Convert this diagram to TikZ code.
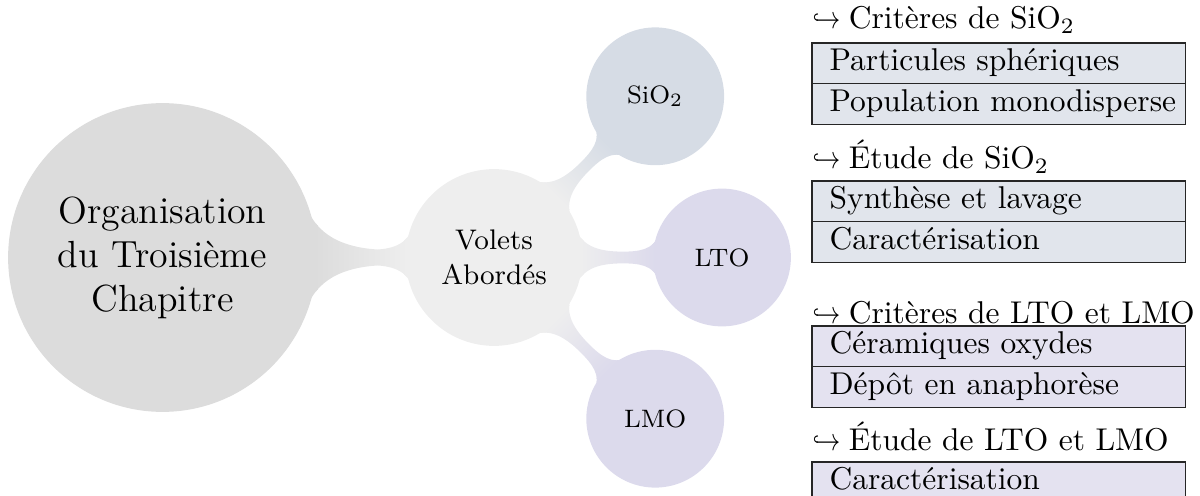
\documentclass[tikz,border=0pt]{standalone}
\usepackage{graphicx}
\usetikzlibrary{mindmap}
\definecolor{rootc}{HTML}{DCDCDC}
\definecolor{voletc}{HTML}{EEEEEE}
\definecolor{sioc}{HTML}{D6DCE5}
\definecolor{ltoc}{HTML}{DCDAEC}
\definecolor{siobox}{HTML}{E1E5EC}
\definecolor{ltobox}{HTML}{E4E2F0}
\newcommand{\hookarr}{\scalebox{0.8}[1]{$\hookrightarrow$}\hspace{2.6pt}}
\begin{document}
\begin{tikzpicture}[x=0.31746pt,y=0.31746pt,
  rowbox/.style={rectangle, anchor=north west,
    inner xsep=0pt, inner ysep=0pt, text width=118.1pt, align=left,
    minimum height=12.54pt, text height=8.4pt, text depth=3.6pt, font=\normalsize},
  boxline/.style={draw=black!85, line width=0.4pt},
  headtext/.style={anchor=base west, inner sep=0pt, font=\normalsize}
]
\useasboundingbox (0,0) rectangle (1200,-496);
\begin{scope}[mindmap, text=black,
  rootnode/.style={concept, concept color=rootc, minimum size=96.83pt, text width=75pt, inner sep=0pt, font=\large, align=center},
  voletnode/.style={concept, concept color=voletc, minimum size=54.92pt, text width=45pt, inner sep=0pt, font=\small, align=center},
  leafnode/.style={concept, minimum size=42.54pt, text width=35pt, inner sep=0pt, font=\footnotesize, align=center}]
\node[rootnode] (root) at (162.5,-257.5) {Organisation\\du Troisième\\Chapitre};
\node[voletnode] (volets) at (494,-257.5) {Volets\\Abordés};
\node[leafnode, concept color=sioc] (sio) at (655.2,-96.3) {SiO$_2$};
\node[leafnode, concept color=ltoc] (lto) at (722,-257.5) {LTO};
\node[leafnode, concept color=ltoc] (lmo) at (655.2,-418.7) {LMO};
\path (root) to[circle connection bar switch color=from (rootc) to (voletc)] (volets);
\path (volets) to[circle connection bar switch color=from (voletc) to (sioc)] (sio);
\path (volets) to[circle connection bar switch color=from (voletc) to (ltoc)] (lto);
\path (volets) to[circle connection bar switch color=from (voletc) to (ltoc)] (lmo);
\end{scope}
% right side
\node[headtext] (h1) at (812,-29) {\hookarr Critères de SiO$_2$};
\node[rowbox, fill=siobox] (b1a) at (812,-43) {\hspace*{5.4pt}Particules sphériques};
\node[rowbox, fill=siobox] (b1b) at (b1a.south west) {\hspace*{5.4pt}Population monodisperse};
\draw[boxline] (b1a.north west) rectangle (b1b.south east);
\draw[boxline] (b1a.south west) -- (b1a.south east);
\node[headtext] (h2) at (812,-169) {\hookarr Étude de SiO$_2$};
\node[rowbox, fill=siobox] (b2a) at (812,-181) {\hspace*{5.4pt}Synthèse et lavage};
\node[rowbox, fill=siobox] (b2b) at (b2a.south west) {\hspace*{5.4pt}Caractérisation};
\draw[boxline] (b2a.north west) rectangle (b2b.south east);
\draw[boxline] (b2a.south west) -- (b2a.south east);
\node[headtext] (h3) at (812,-324) {\hookarr Critères de LTO et LMO};
\node[rowbox, fill=ltobox] (b3a) at (812,-326) {\hspace*{5.4pt}Céramiques oxydes};
\node[rowbox, fill=ltobox] (b3b) at (b3a.south west) {\hspace*{5.4pt}Dépôt en anaphorèse};
\draw[boxline] (b3a.north west) rectangle (b3b.south east);
\draw[boxline] (b3a.south west) -- (b3a.south east);
\node[headtext] (h4) at (812,-451) {\hookarr Étude de LTO et LMO};
\node[rowbox, fill=ltobox] (b4a) at (812,-462) {\hspace*{5.4pt}Caractérisation};
\draw[boxline] (b4a.north west) rectangle (b4a.south east);
\end{tikzpicture}
\end{document}
